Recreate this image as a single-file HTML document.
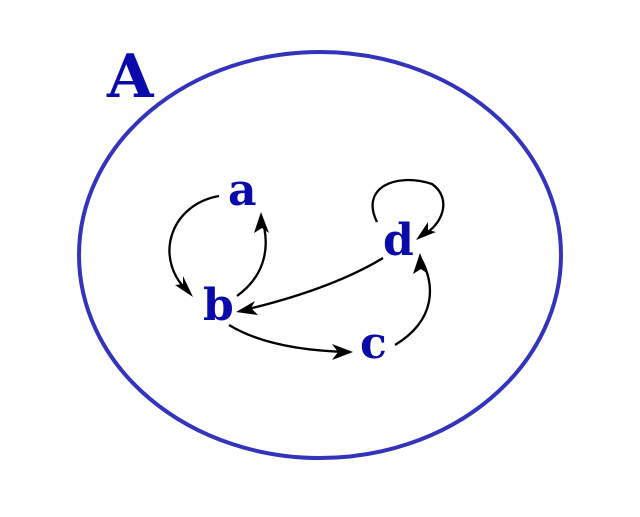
<!DOCTYPE html>
<html><head><style>html,body{margin:0;padding:0;background:#fff}</style></head>
<body>
<svg width="640" height="512" viewBox="0 0 640 512" xmlns="http://www.w3.org/2000/svg">
<rect width="640" height="512" fill="#fff"/>
<ellipse cx="320" cy="255" rx="241" ry="203" fill="none" stroke="#3333bb" stroke-width="4"/>
<g fill="none" stroke="#000" stroke-width="2.3">
<path d="M219,196 C168,205 153,262 190,293"/>
<path d="M237,296 C266,275 271,245 261,216"/>
<path d="M383,258 Q330,290 240,311"/>
<path d="M229,325 Q270,350 348,352"/>
<path d="M395,345 C436,320 436,285 420,257"/>
<path d="M377,222 C360,188 395,172 432,184 C452,198 444,225 420,237"/>
</g>
<g fill="#000">
<polygon points="193,297 175,285 183,284 183,276"/>
<polygon points="261,212 269,233 262,228 254,233"/>
<polygon points="236,312 255,301 251,308 258,315"/>
<polygon points="353,352 332,344 338,352 332,360"/>
<polygon points="420,253 428,274 421,269 413,274"/>
<polygon points="416,240 428,222 428,230 436,232"/>
</g>
<g font-family="'DejaVu Serif', 'Liberation Serif', serif" font-weight="bold" fill="#0a0aaa">
<text x="107" y="97" font-size="60">A</text>
<text x="228" y="205" font-size="44">a</text>
<text x="203" y="320" font-size="44">b</text>
<text x="360" y="358" font-size="44">c</text>
<text x="383" y="255" font-size="44">d</text>
</g>
</svg>
</body></html>
